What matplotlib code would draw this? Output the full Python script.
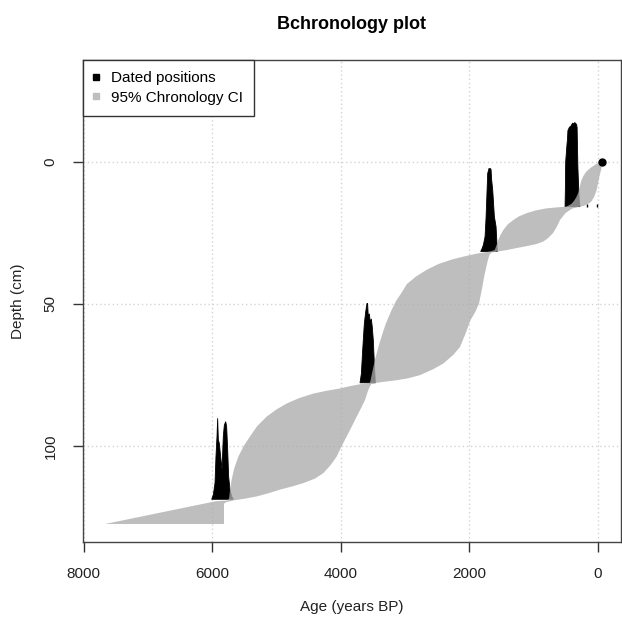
import numpy as np
import matplotlib
matplotlib.use("Agg")
import matplotlib.pyplot as plt
from matplotlib.lines import Line2D

plt.rcParams['font.family'] = ['Liberation Sans', 'DejaVu Sans']

# 95% chronology band: older (left) edge and younger (right) edge, read top to bottom
old_depth = [0, 1, 2.3, 3.5, 5.2, 7, 9, 11, 12.5, 13.8, 14.8, 15.4, 15.8,
             16.1, 16.4, 17.1, 18.1, 19.2, 20.5, 22, 24, 25.8, 27.5, 29.3, 31.1, 31.6,
             32.2, 33, 34.3, 36, 38, 40.4, 43, 46.3, 49, 52.2, 57, 60.4, 64, 69.8, 74, 77.8,
             78.3, 79, 79.8, 80.6, 81.6, 83.2, 85.1, 87.3, 89.7, 93, 96.7, 100, 103.8,
             108, 111.9, 115, 118.4, 119.2, 119.5, 127.5]
old_age = [-65, 40, 121, 180, 230, 262, 282, 305, 335, 370, 410, 455, 490,
           650, 796, 960, 1107, 1225, 1314, 1400, 1470, 1515, 1548, 1575, 1605, 1680,
           1850, 2020, 2255, 2480, 2660, 2830, 2970, 3060, 3140, 3210, 3300, 3350, 3400, 3470, 3510, 3545,
           3700, 3860, 4013, 4220, 4428, 4650, 4843, 5010, 5154, 5300, 5414, 5510, 5595,
           5660, 5699, 5722, 5738, 5760, 5950, 7670]
young_depth = [0, 2.5, 5.2, 8, 10.5, 12.5, 14, 15, 15.6, 15.9,
               16.5, 18, 20.5, 23, 25.2, 27, 28.1, 29, 29.7, 30.4, 31.1, 31.6, 32.0,
               33, 35, 40, 45, 50, 53, 55.9, 60, 65.2, 68, 71, 73, 75.1, 76.2, 76.9, 77.5, 78.1,
               79, 80.5, 83.9, 86.5, 89.7, 93, 96.7, 100, 103.8, 106.8, 109.6, 111.5, 113.1,
               114.3, 115.4, 116.7, 117.8, 118.6, 119.2, 119.8, 120.3, 127.5]
young_age = [-75, -55, -25, 0, 25, 60, 100, 160, 230, 300,
             400, 500, 588, 640, 700, 780, 850, 960, 1107, 1270, 1418, 1560, 1660,
             1690, 1715, 1765, 1805, 1850, 1910, 1985, 2050, 2145, 2250, 2404, 2560, 2768, 2950, 3131, 3350, 3520,
             3545, 3575, 3624, 3680, 3753, 3825, 3909, 3985, 4065, 4160, 4272, 4400, 4583,
             4760, 4947, 5130, 5310, 5500, 5673, 5780, 5818, 5818]

# dated positions (histogram outlines: age, top depth)
date1_age = [-70]
date1_depth = [0]
date2_age = [510, 505, 500, 490, 480, 472, 465, 455, 445, 430, 415, 400, 390, 375, 360, 345, 330, 322, 317, 310, 300, 290, 278]
date2_top = [15.8, 10, 0, -3, -6, -8, -11, -11.5, -12, -12.4, -12.6, -13.3, -13.6, -13.2, -13.8, -13.5, -13.1, -12, -6, 2, 8, 13, 15.8]
date3_age = [1823, 1800, 1781, 1755, 1740, 1729, 1714, 1700, 1693, 1680, 1670, 1662, 1652, 1636, 1626, 1610, 1584, 1563]
date3_top = [31.6, 30.5, 29.3, 26.4, 20, 13.4, 4.1, 3.0, 2.3, 2.6, 2.4, 2.7, 6.4, 9.9, 13.4, 19.3, 22.8, 31.6]
date4_age = [3701, 3680, 3660, 3634, 3613, 3598, 3590, 3582, 3572, 3556, 3541, 3525, 3510, 3494, 3478, 3463]
date4_top = [77.8, 74.6, 66.4, 57.0, 52.9, 50.5, 49.8, 50.2, 54.7, 53.5, 56.5, 55.3, 58.2, 62.9, 71.1, 77.8]
date5_age = [6010, 5984, 5958, 5943, 5927, 5917, 5906, 5891, 5870, 5849, 5829, 5813, 5792, 5777, 5761, 5746, 5725, 5699, 5673]
date5_top = [118.8, 117.2, 113.1, 103.8, 96.7, 90.3, 97.9, 99.1, 103.8, 108.4, 96.7, 92.7, 91.5, 93.2, 101.4, 110.8, 115.4, 117.8, 118.8]
tail_age = [173, 17]
tail_base = 15.8
tail_top = 14.8

x_ticks = [8000, 6000, 4000, 2000, 0]
y_ticks = [0, 50, 100]

fig = plt.figure(figsize=(6.22, 6.18), dpi=100)
ax = fig.add_axes([0.1330, 0.1222, 0.8654, 0.7807])

ax.set_xlim(8017, -361)
ax.set_ylim(134.0, -35.8)

for gx in x_ticks:
    ax.axvline(gx, color='#d3d3d3', lw=1, ls=(0, (1, 2)), zorder=0)
for gy in y_ticks:
    ax.axhline(gy, color='#d3d3d3', lw=1, ls=(0, (1, 2)), zorder=0)

for a, t in [(date2_age, date2_top), (date3_age, date3_top),
             (date4_age, date4_top), (date5_age, date5_top)]:
    ax.fill(a, t, color='black', lw=0.6, ec='black', zorder=2)
ax.vlines(tail_age, tail_top, tail_base, color='black', lw=1, zorder=2)

band_x = np.r_[old_age, young_age[::-1]]
band_y = np.r_[old_depth, young_depth[::-1]]
ax.fill(band_x, band_y, color=(172 / 255, 172 / 255, 172 / 255), alpha=0.78, lw=0, zorder=3)

ax.plot(date1_age, date1_depth, 'o', color='black', ms=5, zorder=4)

ax.set_xticks(x_ticks)
ax.set_yticks(y_ticks)
ax.tick_params(direction='out', length=7, width=1, color='#333333', labelsize=11,
               labelcolor='#222222')
ax.tick_params(axis='x', pad=11)
ax.tick_params(axis='y', pad=11)
plt.setp(ax.get_yticklabels(), rotation=90, va='center')
for s in ax.spines.values():
    s.set_color('#444444')
    s.set_linewidth(1)

ax.set_title('Bchronology plot', fontsize=13, fontweight='bold', pad=0,
             y=1.0746, va='center')
ax.set_xlabel('Age (years BP)', fontsize=11, color='#222222')
ax.xaxis.set_label_coords(0.5, -0.1337)
ax.xaxis.label.set_va('center')
ax.set_ylabel('Depth (cm)', fontsize=11, color='#222222')
ax.yaxis.set_label_coords(-0.1202, 0.5)
ax.yaxis.label.set_va('center')

handles = [Line2D([], [], marker='s', ls='none', color='black', ms=5),
           Line2D([], [], marker='s', ls='none', color='#bebebe', ms=5)]
leg = ax.legend(handles, ['Dated positions', '95% Chronology CI'], loc='upper left',
                borderaxespad=0, fancybox=False, edgecolor='#333333', framealpha=1,
                fontsize=11, handlelength=0.3, handletextpad=0.78, borderpad=0.75,
                labelspacing=0.35)
leg.get_frame().set_linewidth(1)

fig.savefig('out.png', dpi=100)
